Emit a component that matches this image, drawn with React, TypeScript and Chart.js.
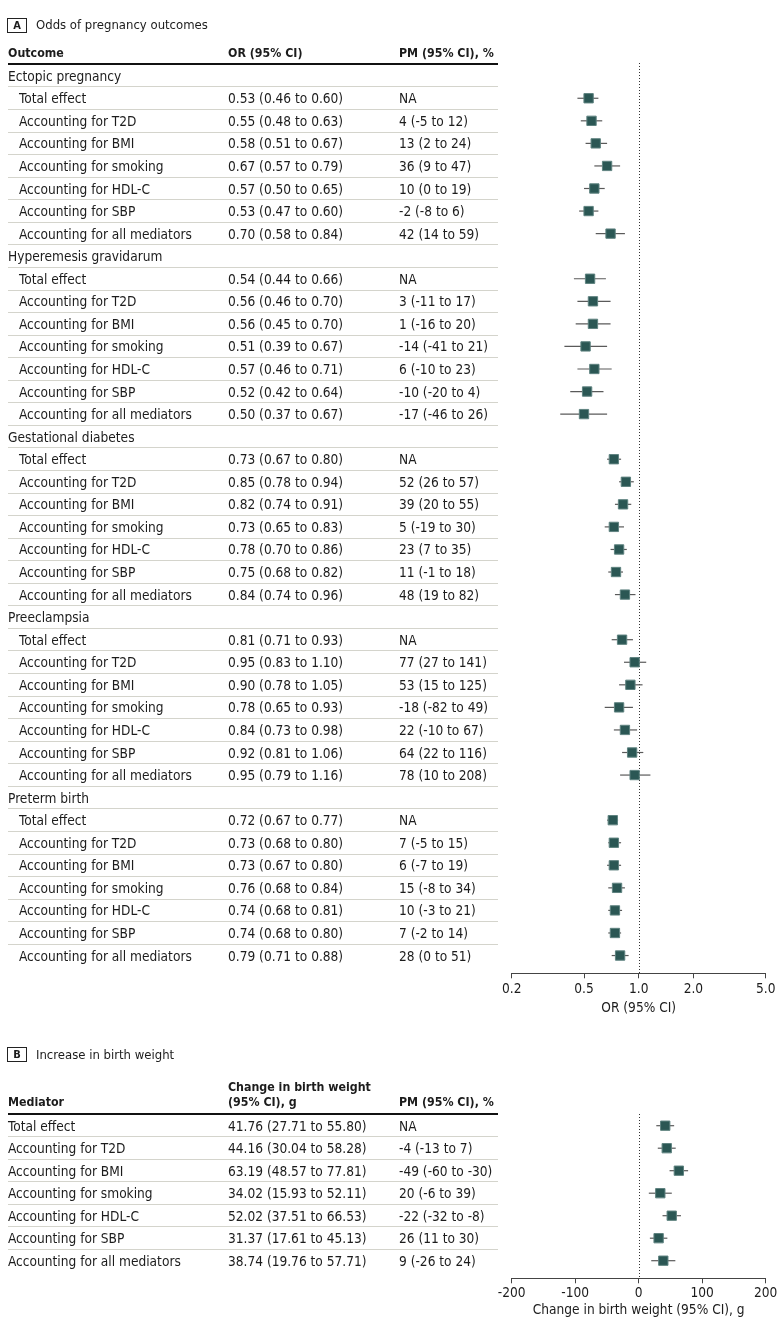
import React, { useEffect, useRef } from "react";
import { Chart, registerables } from "chart.js";

Chart.register(...registerables);

// ---------- DATA ----------
const groupsA = ["Ectopic pregnancy", "Hyperemesis gravidarum", "Gestational diabetes", "Preeclampsia", "Preterm birth"];
const mediatorLabels = [
  "Total effect",
  "Accounting for T2D",
  "Accounting for BMI",
  "Accounting for smoking",
  "Accounting for HDL-C",
  "Accounting for SBP",
  "Accounting for all mediators",
];

const ectopicOR = [0.53, 0.55, 0.58, 0.67, 0.57, 0.53, 0.70];
const ectopicLo = [0.46, 0.48, 0.51, 0.57, 0.50, 0.47, 0.58];
const ectopicHi = [0.60, 0.63, 0.67, 0.79, 0.65, 0.60, 0.84];
const ectopicPM = ["NA", "4 (-5 to 12)", "13 (2 to 24)", "36 (9 to 47)", "10 (0 to 19)", "-2 (-8 to 6)", "42 (14 to 59)"];

const hyperOR = [0.54, 0.56, 0.56, 0.51, 0.57, 0.52, 0.50];
const hyperLo = [0.44, 0.46, 0.45, 0.39, 0.46, 0.42, 0.37];
const hyperHi = [0.66, 0.70, 0.70, 0.67, 0.71, 0.64, 0.67];
const hyperPM = ["NA", "3 (-11 to 17)", "1 (-16 to 20)", "-14 (-41 to 21)", "6 (-10 to 23)", "-10 (-20 to 4)", "-17 (-46 to 26)"];

const gdmOR = [0.73, 0.85, 0.82, 0.73, 0.78, 0.75, 0.84];
const gdmLo = [0.67, 0.78, 0.74, 0.65, 0.70, 0.68, 0.74];
const gdmHi = [0.80, 0.94, 0.91, 0.83, 0.86, 0.82, 0.96];
const gdmPM = ["NA", "52 (26 to 57)", "39 (20 to 55)", "5 (-19 to 30)", "23 (7 to 35)", "11 (-1 to 18)", "48 (19 to 82)"];

const preeclOR = [0.81, 0.95, 0.90, 0.78, 0.84, 0.92, 0.95];
const preeclLo = [0.71, 0.83, 0.78, 0.65, 0.73, 0.81, 0.79];
const preeclHi = [0.93, 1.10, 1.05, 0.93, 0.98, 1.06, 1.16];
const preeclPM = ["NA", "77 (27 to 141)", "53 (15 to 125)", "-18 (-82 to 49)", "22 (-10 to 67)", "64 (22 to 116)", "78 (10 to 208)"];

const pretermOR = [0.72, 0.73, 0.73, 0.76, 0.74, 0.74, 0.79];
const pretermLo = [0.67, 0.68, 0.67, 0.68, 0.68, 0.68, 0.71];
const pretermHi = [0.77, 0.80, 0.80, 0.84, 0.81, 0.80, 0.88];
const pretermPM = ["NA", "7 (-5 to 15)", "6 (-7 to 19)", "15 (-8 to 34)", "10 (-3 to 21)", "7 (-2 to 14)", "28 (0 to 51)"];

const orTicks = [0.2, 0.5, 1.0, 2.0, 5.0];

const bwChange = [41.76, 44.16, 63.19, 34.02, 52.02, 31.37, 38.74];
const bwLo = [27.71, 30.04, 48.57, 15.93, 37.51, 17.61, 19.76];
const bwHi = [55.8, 58.28, 77.81, 52.11, 66.53, 45.13, 57.71];
const bwPM = ["NA", "-4 (-13 to 7)", "-49 (-60 to -30)", "20 (-6 to 39)", "-22 (-32 to -8)", "26 (11 to 30)", "9 (-26 to 24)"];
const bwTicks = [-200, -100, 0, 100, 200];

// ---------- derived tables ----------
const groupOR = [ectopicOR, hyperOR, gdmOR, preeclOR, pretermOR];
const groupLo = [ectopicLo, hyperLo, gdmLo, preeclLo, pretermLo];
const groupHi = [ectopicHi, hyperHi, gdmHi, preeclHi, pretermHi];
const groupPM = [ectopicPM, hyperPM, gdmPM, preeclPM, pretermPM];

const FONT = "'DejaVu Sans Condensed', 'Liberation Sans', sans-serif";
const BODY = 13.6;
const BOLD_SIZE = 12.3;
const TXT = "#1c1c1c";

// layout (page coordinates)
const A_ROW0 = 75.7;
const A_PITCH = 22.56;
const A_TOP = 63;
const A_AXIS = 973.3;
const B_CANVAS_TOP = 1030;
const B_ROW0 = 1125.7;
const B_PITCH = 22.5;
const B_TOP = 1114;
const B_AXIS = 1278.3;
const PLOT_L = 511.7;
const PLOT_R = 765.7;

type Pt = { x: number; y: number; lo: number; hi: number };

const rowsA: { label: string; indent: boolean; or?: string; pm?: string }[] = [];
const pointsA: Pt[] = [];
groupsA.forEach((g, gi) => {
  rowsA.push({ label: g, indent: false });
  mediatorLabels.forEach((m, k) => {
    const idx = rowsA.length;
    rowsA.push({
      label: m,
      indent: true,
      or: `${groupOR[gi][k].toFixed(2)} (${groupLo[gi][k].toFixed(2)} to ${groupHi[gi][k].toFixed(2)})`,
      pm: groupPM[gi][k],
    });
    pointsA.push({ x: groupOR[gi][k], y: idx, lo: groupLo[gi][k], hi: groupHi[gi][k] });
  });
});

const pointsB: Pt[] = bwChange.map((v, i) => ({ x: v, y: i, lo: bwLo[i], hi: bwHi[i] }));

const forestPlugin = {
  id: "forest",
  beforeDatasetsDraw(chart: any, _args: any, opts: any) {
    const { ctx, chartArea } = chart;
    const x = chart.scales.x;
    const y = chart.scales.y;
    ctx.save();
    const px = Math.round(x.getPixelForValue(opts.refValue)) + 0.5;
    ctx.strokeStyle = "#333";
    ctx.lineWidth = 1;
    ctx.setLineDash([1, 2]);
    ctx.beginPath();
    ctx.moveTo(px, chartArea.top);
    ctx.lineTo(px, chartArea.bottom);
    ctx.stroke();
    ctx.setLineDash([]);
    ctx.strokeStyle = "#5a5a5a";
    ctx.lineWidth = 1.2;
    const data = chart.data.datasets[0].data as Pt[];
    data.forEach((d) => {
      const yy = y.getPixelForValue(d.y);
      ctx.beginPath();
      ctx.moveTo(x.getPixelForValue(d.lo), yy);
      ctx.lineTo(x.getPixelForValue(d.hi), yy);
      ctx.stroke();
    });
    ctx.restore();
  },
};

function makeConfig(opts: {
  points: Pt[];
  xType: "logarithmic" | "linear";
  min: number;
  max: number;
  ticks: number[];
  fmt: (v: number) => string;
  title: string;
  ref: number;
  canvasH: number;
  areaTop: number;
  areaBottom: number;
  titleCenter: number;
  tickPad: number;
  yMin: number;
  yMax: number;
}) {
  const lineH = BODY * 1.2;
  const scaleBottom = opts.titleCenter + lineH / 2;
  return {
    type: "scatter" as const,
    data: {
      datasets: [
        {
          data: opts.points,
          pointStyle: "rect",
          pointRadius: 6.6,
          pointHoverRadius: 6.6,
          backgroundColor: "#2b5754",
          borderColor: "#5f8380",
          borderWidth: 1,
        },
      ],
    },
    options: {
      animation: false,
      responsive: false,
      devicePixelRatio: 1,
      events: [],
      layout: {
        padding: {
          left: PLOT_L,
          right: 780 - PLOT_R,
          top: opts.areaTop,
          bottom: opts.canvasH - scaleBottom,
        },
      },
      plugins: {
        legend: { display: false },
        tooltip: { enabled: false },
        forest: { refValue: opts.ref },
      },
      scales: {
        x: {
          type: opts.xType,
          position: "bottom",
          min: opts.min,
          max: opts.max,
          afterBuildTicks: (s: any) => {
            s.ticks = opts.ticks.map((v) => ({ value: v }));
          },
          afterFit: (s: any) => {
            s.height = scaleBottom - opts.areaBottom;
          },
          ticks: {
            autoSkip: false,
            maxRotation: 0,
            padding: opts.tickPad,
            color: TXT,
            font: { family: FONT, size: BODY },
            callback: (v: any) => opts.fmt(Number(v)),
          },
          grid: {
            display: true,
            drawOnChartArea: false,
            drawTicks: true,
            tickLength: 5,
            tickColor: "#444",
            tickWidth: 1,
          },
          border: { display: true, color: "#444", width: 1 },
          title: {
            display: true,
            text: opts.title,
            color: TXT,
            font: { family: FONT, size: BODY },
            padding: 0,
          },
        },
        y: {
          type: "linear",
          reverse: true,
          display: false,
          min: opts.yMin,
          max: opts.yMax,
        },
      },
    },
    plugins: [forestPlugin],
  };
}

function ChartCanvas({ top, height, config }: { top: number; height: number; config: any }) {
  const ref = useRef<HTMLCanvasElement | null>(null);
  useEffect(() => {
    if (!ref.current) return;
    const chart = new Chart(ref.current, config);
    return () => chart.destroy();
  }, []);
  return (
    <canvas
      ref={ref}
      width={780}
      height={height}
      style={{ position: "absolute", left: 0, top, width: 780, height }}
    />
  );
}

function T({ x, y, children, bold, size }: { x: number; y: number; children: any; bold?: boolean; size?: number }) {
  return (
    <div
      style={{
        position: "absolute",
        left: x,
        top: y - 10,
        height: 20,
        lineHeight: "20px",
        fontSize: size || (bold ? BOLD_SIZE : BODY),
        fontFamily: FONT,
        fontWeight: bold ? 700 : 400,
        color: TXT,
        whiteSpace: "nowrap",
      }}
    >
      {children}
    </div>
  );
}

function HLine({ y, color, h }: { y: number; color: string; h: number }) {
  return (
    <div
      style={{ position: "absolute", left: 8, top: y - h / 2, width: 490, height: h, background: color }}
    />
  );
}

function Badge({ y, letter }: { y: number; letter: string }) {
  return (
    <div
      style={{
        position: "absolute",
        left: 7,
        top: y - 7.5,
        width: 20,
        height: 15,
        boxSizing: "border-box",
        border: "1px solid #222",
        fontFamily: FONT,
        fontWeight: 700,
        fontSize: 11,
        lineHeight: "13px",
        textAlign: "center",
        color: TXT,
      }}
    >
      {letter}
    </div>
  );
}

const configA = makeConfig({
  points: pointsA,
  xType: "logarithmic",
  min: 0.2,
  max: 5,
  ticks: orTicks,
  fmt: (v) => v.toFixed(1),
  title: "OR (95% CI)",
  ref: 1,
  canvasH: 1030,
  areaTop: A_TOP,
  areaBottom: A_AXIS,
  titleCenter: 1008,
  tickPad: 3.5,
  yMin: (A_TOP - A_ROW0) / A_PITCH,
  yMax: (A_AXIS - A_ROW0) / A_PITCH,
});

const configB = makeConfig({
  points: pointsB,
  xType: "linear",
  min: -200,
  max: 200,
  ticks: bwTicks,
  fmt: (v) => String(v),
  title: "Change in birth weight (95% CI), g",
  ref: 0,
  canvasH: 300,
  areaTop: B_TOP - B_CANVAS_TOP,
  areaBottom: B_AXIS - B_CANVAS_TOP,
  titleCenter: 1310 - B_CANVAS_TOP,
  tickPad: 2,
  yMin: (B_TOP - B_ROW0) / B_PITCH,
  yMax: (B_AXIS - B_ROW0) / B_PITCH,
});

export default function App() {
  const rowY = (i: number) => A_ROW0 + A_PITCH * i;
  const rowYB = (i: number) => B_ROW0 + B_PITCH * i;
  return (
    <div style={{ position: "absolute", left: 0, top: 0, width: 780, height: 1330, background: "#fff", overflow: "hidden" }}>
      <ChartCanvas top={0} height={1030} config={configA} />
      <ChartCanvas top={B_CANVAS_TOP} height={300} config={configB} />

      {/* Panel A */}
      <Badge y={25} letter="A" />
      <T x={36} y={24.5} size={13}>Odds of pregnancy outcomes</T>
      <T x={8} y={53} bold>Outcome</T>
      <T x={228} y={53} bold>OR (95% CI)</T>
      <T x={399} y={53} bold>PM (95% CI), %</T>
      <HLine y={64} color="#111" h={1.6} />
      {rowsA.slice(0, -1).map((_, i) => (
        <HLine key={"sa" + i} y={A_ROW0 + A_PITCH * (i + 0.5)} color="#d4d4cc" h={1} />
      ))}
      {rowsA.map((r, i) => (
        <React.Fragment key={"ra" + i}>
          <T x={r.indent ? 19 : 8} y={rowY(i)}>{r.label}</T>
          {r.or && <T x={228} y={rowY(i)}>{r.or}</T>}
          {r.pm && <T x={399} y={rowY(i)}>{r.pm}</T>}
        </React.Fragment>
      ))}

      {/* Panel B */}
      <Badge y={1054} letter="B" />
      <T x={36} y={1054.5} size={13}>Increase in birth weight</T>
      <T x={228} y={1086.7} bold>Change in birth weight</T>
      <T x={8} y={1101.7} bold>Mediator</T>
      <T x={228} y={1101.7} bold>(95% CI), g</T>
      <T x={399} y={1101.7} bold>PM (95% CI), %</T>
      <HLine y={1114} color="#111" h={1.6} />
      {mediatorLabels.slice(0, -1).map((_, i) => (
        <HLine key={"sb" + i} y={B_ROW0 + B_PITCH * (i + 0.5)} color="#d4d4cc" h={1} />
      ))}
      {mediatorLabels.map((m, i) => (
        <React.Fragment key={"rb" + i}>
          <T x={8} y={rowYB(i)}>{m}</T>
          <T x={228} y={rowYB(i)}>{`${bwChange[i].toFixed(2)} (${bwLo[i].toFixed(2)} to ${bwHi[i].toFixed(2)})`}</T>
          <T x={399} y={rowYB(i)}>{bwPM[i]}</T>
        </React.Fragment>
      ))}
    </div>
  );
}
